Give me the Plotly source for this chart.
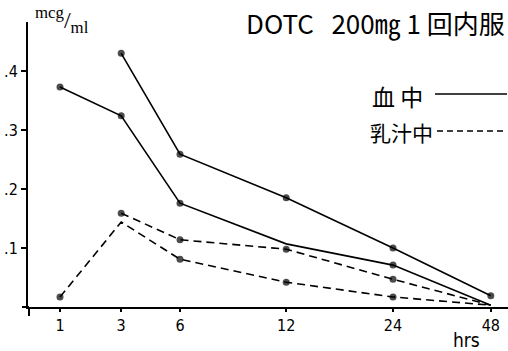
import plotly.graph_objects as go

# ---- data ----
hours = ["1", "3", "6", "12", "24", "48"]
x_pos = [1.0, 2.02, 3.0, 4.77, 6.55, 8.18]   # hand-drawn axis positions of hour ticks

blood_hi_x = [2.02, 3.0, 4.77, 6.55, 8.18]
blood_hi = [0.430, 0.259, 0.185, 0.100, 0.019]
blood_hi_dot = [1, 1, 1, 1, 1]

blood_lo_x = [1.0, 2.02, 3.0, 4.77, 6.55, 8.18]
blood_lo = [0.373, 0.324, 0.176, 0.107, 0.071, 0.003]
blood_lo_dot = [1, 1, 1, 0, 1, 0]

milk_hi_x = [2.02, 3.0, 4.77, 6.55, 8.18]
milk_hi = [0.159, 0.114, 0.098, 0.047, 0.003]
milk_hi_dot = [1, 1, 1, 1, 0]

milk_lo_x = [1.0, 2.02, 3.0, 4.77, 6.55, 8.18]
milk_lo = [0.017, 0.144, 0.081, 0.042, 0.017, 0.003]
milk_lo_dot = [1, 0, 1, 1, 1, 0]

y_ticks = [0.1, 0.2, 0.3, 0.4]
y_tick_text = [".1", ".2", ".3", ".4"]

W, H = 508, 351
L, R, T, B = 28, 0, 22, 44
PW, PH = W - L - R, H - T - B

def pxx(p):
    return (p - L) / PW

def pxy(p):
    return (H - B - p) / PH

FONT = "Liberation Sans Narrow, DejaVu Sans Condensed, Arial Narrow, Liberation Sans, sans-serif"
CJK = "Noto Sans CJK JP, Noto Sans CJK SC, sans-serif"
NB = "\u00a0"

fig = go.Figure()

def add(xs, ys, dots, dash):
    fig.add_trace(go.Scatter(
        x=xs, y=ys, mode="lines+markers",
        line=dict(color="black", width=1.6, dash=dash),
        marker=dict(color="black", size=[7 if d else 0 for d in dots],
                    line=dict(width=0)),
        showlegend=False, hoverinfo="skip"))

add(blood_hi_x, blood_hi, blood_hi_dot, "solid")
add(blood_lo_x, blood_lo, blood_lo_dot, "solid")
add(milk_hi_x, milk_hi, milk_hi_dot, "8px,5px")
add(milk_lo_x, milk_lo, milk_lo_dot, "8px,5px")

fig.update_layout(
    width=W, height=H,
    margin=dict(l=L, r=R, t=T, b=B, pad=0),
    paper_bgcolor="white", plot_bgcolor="white",
    xaxis=dict(range=[1 - 32 / 60, 1 + 448 / 60], tickvals=x_pos, ticktext=hours,
               showline=True, linecolor="black", linewidth=2, ticks="outside",
               ticklen=3, tickwidth=1.5, tickcolor="black", showgrid=False,
               zeroline=False, tickfont=dict(family=FONT, size=16, color="black")),
    yaxis=dict(range=[0, (H - B - T) / 590], tickvals=y_ticks, ticktext=y_tick_text,
               showline=True, linecolor="black", linewidth=2, ticks="outside",
               ticklen=5, tickwidth=1.5, tickcolor="black", showgrid=False,
               zeroline=False, tickfont=dict(family=FONT, size=16, color="black")),
)

# y-axis extension below x axis
fig.add_shape(type="line", xref="paper", yref="paper", x0=pxx(29), x1=pxx(29),
              y0=pxy(307), y1=pxy(316), line=dict(color="black", width=2))
# x-axis extension to left
fig.add_shape(type="line", xref="paper", yref="paper", x0=pxx(22), x1=pxx(29),
              y0=pxy(307), y1=pxy(307), line=dict(color="black", width=2))

# title
fig.add_annotation(xref="paper", yref="paper", x=pxx(507), y=pxy(22),
                   xanchor="right", yanchor="middle", showarrow=False,
                   text="DOTC" + NB * 3 + "200㎎" + NB + "1" + NB + "回内服",
                   font=dict(family="Noto Sans CJK JP, sans-serif", size=26, color="black"))
# unit
fig.add_annotation(xref="paper", yref="paper", x=pxx(33), y=pxy(20),
                   xanchor="left", yanchor="middle", showarrow=False,
                   text="<sup>mcg</sup>/<sub>ml</sub>",
                   font=dict(family="Liberation Serif, serif", size=24, color="black"))
# hrs
fig.add_annotation(xref="paper", yref="paper", x=pxx(466), y=pxy(340),
                   xanchor="center", yanchor="middle", showarrow=False,
                   text="hrs", font=dict(family=FONT, size=19, color="black"))

# legend
fig.add_annotation(xref="paper", yref="paper", x=pxx(370), y=pxy(96),
                   xanchor="left", yanchor="middle", showarrow=False,
                   text="血 中", font=dict(family=CJK, size=23, color="black"))
fig.add_shape(type="line", xref="paper", yref="paper", x0=pxx(435), x1=pxx(507),
              y0=pxy(94), y1=pxy(94), line=dict(color="black", width=1.6))
fig.add_annotation(xref="paper", yref="paper", x=pxx(368), y=pxy(132),
                   xanchor="left", yanchor="middle", showarrow=False,
                   text="乳汁中", font=dict(family=CJK, size=21, color="black"))
fig.add_shape(type="line", xref="paper", yref="paper", x0=pxx(437), x1=pxx(507),
              y0=pxy(131), y1=pxy(131), line=dict(color="black", width=1.6, dash="6px,4px"))

fig.write_html("out.html", config={"displayModeBar": False},
               post_script="document.body.style.margin='0';document.body.style.overflow='hidden';")
